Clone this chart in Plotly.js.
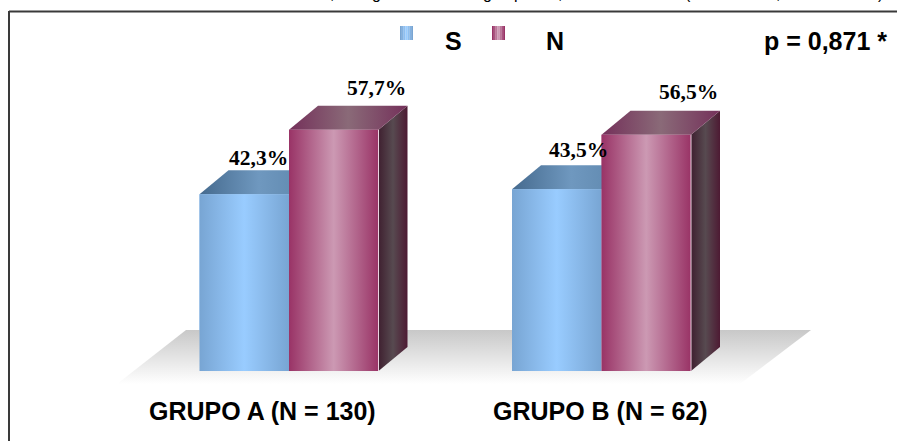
<!DOCTYPE html>
<html>
<head>
<meta charset="utf-8">
<script src="https://cdn.plot.ly/plotly-3.0.1.min.js"></script>
<style>html,body{margin:0;padding:0;background:#fff}#chart{width:897px;height:441px}</style>
</head>
<body>
<div id="chart"></div>
<script>
// Share of answers per group
const groups = ['GRUPO A (N = 130)', 'GRUPO B (N = 62)'];
const seriesNames = ['S', 'N'];
const valuesS = [42.3, 43.5];
const valuesN = [57.7, 56.5];
const pValueText = 'p = 0,871 *';

// Scale of the drawing: pixels per axis unit
const W = 897, H = 441;
const pxX = 312.5, pxY = 4.18;
const zeroPx = {x: 289, y: 371};
const px = v => v / pxX, py = v => v / pxY;
const barWidth = px(89.5);
const depthX = px(29), depthY = py(24);

const sideStops = {
  S: {front: ['#78a5d3', '#99ccff', '#78a5d3'], top: ['#456a8e', '#6f98bf', '#5b84aa']},
  N: {front: ['#993366', '#cc99b3', '#993366'], top: ['#74305a', '#8a6a78', '#74305a'],
      side: ['#3f2030', '#574a50', '#4d1a33']}
};

function scale3(c) { return [[0, c[0]], [0.5, c[1]], [1, c[2]]]; }

function face(xs, ys, colors) {
  return {
    type: 'scatter', mode: 'lines', x: xs, y: ys, fill: 'toself',
    line: {width: 0}, hoverinfo: 'skip', showlegend: false,
    fillcolor: colors[1],
    fillgradient: {type: 'horizontal', colorscale: scale3(colors)}
  };
}

// One solid column: flat bar trace below, shaded faces above it
function columnFaces(i, value, left, stops) {
  const right = left + barWidth;
  const out = [];
  if (stops.side) {
    out.push(face([right, right + depthX, right + depthX, right, right],
      [value, value + depthY, depthY, 0, value], stops.side));
  }
  out.push(face([left, left + depthX, right + depthX, right, left],
    [value, value + depthY, value + depthY, value, value], stops.top));
  out.push(face([left, right, right, left, left], [0, 0, value, value, 0], stops.front));
  return out;
}

const xIndex = groups.map((_, i) => i);

const floor = {
  type: 'scatter', mode: 'lines',
  x: [px(117 - 289), px(186 - 289), px(811 - 289), px(740 - 289), px(117 - 289)],
  y: [py(371 - 384), py(371 - 330), py(371 - 330), py(371 - 384), py(371 - 384)],
  fill: 'toself', line: {width: 0}, hoverinfo: 'skip', showlegend: false,
  fillcolor: '#e4e4e4',
  fillgradient: {type: 'vertical', colorscale: [[0, '#ffffff'], [1, '#c8c8c8']]}
};

const barsS = {type: 'bar', name: seriesNames[0], x: xIndex, y: valuesS, width: barWidth, offset: -barWidth,
  marker: {color: '#99ccff', line: {width: 0}}, showlegend: false};
const barsN = {type: 'bar', name: seriesNames[1], x: xIndex, y: valuesN, width: barWidth, offset: 0,
  marker: {color: '#cc99b3', line: {width: 0}}, showlegend: false};

const facesS = xIndex.flatMap(i => columnFaces(i, valuesS[i], i - barWidth, sideStops.S));
const facesN = xIndex.flatMap(i => columnFaces(i, valuesN[i], i, sideStops.N));

// Light edge where the front of a column meets its side
const edgeN = {
  type: 'scatter', mode: 'lines', hoverinfo: 'skip', showlegend: false,
  x: xIndex.flatMap(i => [i + barWidth, i + barWidth, null]),
  y: valuesN.flatMap(v => [0, v, null]),
  line: {color: '#ecd3e2', width: 1}
};

const fmt = v => v.toFixed(1).replace('.', ',') + '%';
const labelFont = {family: '"Liberation Serif", serif', size: 21.5, color: '#000'};
const sansBold = size => ({family: '"Liberation Sans", sans-serif', size: size, color: '#000'});

function valueLabel(x, y, shiftX, shiftY) {
  return {xref: 'x', yref: 'y', x: x, y: y, xshift: shiftX, yshift: shiftY,
    text: '<b>' + fmt(y) + '</b>', showarrow: false, font: labelFont,
    xanchor: 'center', yanchor: 'middle'};
}

const paperX = p => p / W, paperY = p => 1 - p / H;

function paperText(text, xp, yp, size, bold) {
  return {xref: 'paper', yref: 'paper', x: paperX(xp), y: paperY(yp),
    text: bold === false ? text : '<b>' + text + '</b>', showarrow: false, font: sansBold(size),
    xanchor: 'center', yanchor: 'middle'};
}

const annotations = [
  valueLabel(0 - barWidth / 2, valuesS[0], 14, 36),
  valueLabel(0 + barWidth / 2, valuesN[0], 42.5, 42),
  valueLabel(1 - barWidth / 2, valuesS[1], 22, 39),
  valueLabel(1 + barWidth / 2, valuesN[1], 42, 43),
  paperText(groups[0], 262, 411, 25),
  paperText(groups[1], 600, 411, 25),
  paperText(seriesNames[0], 453, 41, 25),
  paperText(seriesNames[1], 555, 41, 25),
  paperText(pValueText, 825.5, 41, 25)
];

// Caption running off the top edge: only the lowest strokes stay on the page
[[',', 332], ['g', 376], ['g', 487], ['p', 518], [',', 560], ['(', 688], [',', 778], [')', 880]]
  .forEach(g => annotations.push(paperText(g[0], g[1], -7, 16, false)));

function swatch(left, colors) {
  const n = 7, rects = [];
  for (let k = 0; k < n; k++) {
    const t = k / (n - 1);
    const a = t < 0.5 ? t * 2 : (1 - t) * 2;
    const mix = (h1, h2) => {
      const p1 = parseInt(h1.slice(1), 16), p2 = parseInt(h2.slice(1), 16);
      const c = s => Math.round(((p1 >> s) & 255) * (1 - a) + ((p2 >> s) & 255) * a);
      return `rgb(${c(16)},${c(8)},${c(0)})`;
    };
    rects.push({type: 'rect', xref: 'paper', yref: 'paper', layer: 'above',
      x0: paperX(left + k * 13 / n), x1: paperX(left + (k + 1) * 13 / n),
      y0: paperY(40), y1: paperY(26), line: {width: 0}, fillcolor: mix(colors[0], colors[1])});
  }
  return rects;
}

const frame = [
  {type: 'line', xref: 'paper', yref: 'paper', x0: paperX(9), x1: 1, y0: paperY(11.5), y1: paperY(11.5),
    line: {color: '#3a3a3a', width: 2}},
  {type: 'line', xref: 'paper', yref: 'paper', x0: paperX(9), x1: paperX(9), y0: paperY(11), y1: 0,
    line: {color: '#3a3a3a', width: 2}}
];

const layout = {
  width: W, height: H, showlegend: false,
  margin: {l: 0, r: 0, t: 0, b: 0},
  paper_bgcolor: '#fff', plot_bgcolor: '#fff',
  barmode: 'overlay',
  xaxis: {range: [-zeroPx.x / pxX, (W - zeroPx.x) / pxX], visible: false, fixedrange: true},
  yaxis: {range: [(zeroPx.y - H) / pxY, zeroPx.y / pxY], visible: false, fixedrange: true},
  annotations: annotations,
  shapes: frame.concat(swatch(400, sideStops.S.front), swatch(492, sideStops.N.front))
};

Plotly.newPlot('chart', [floor, barsS, barsN].concat(facesS, facesN, [edgeN]), layout,
  {displayModeBar: false, staticPlot: true});
</script>
</body>
</html>
